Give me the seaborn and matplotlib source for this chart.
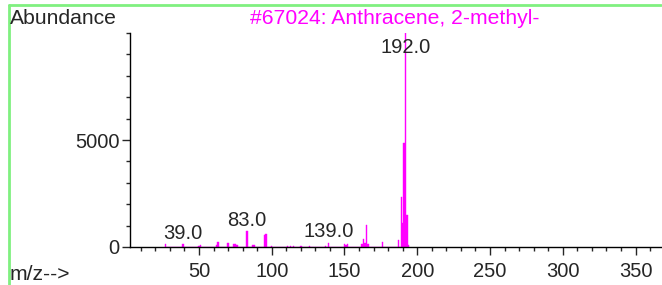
import matplotlib
matplotlib.use("Agg")
import matplotlib.pyplot as plt
from matplotlib.lines import Line2D
from matplotlib.ticker import MultipleLocator
import pandas as pd
import seaborn as sns

sns.set_style("ticks")
plt.rcParams['font.family'] = ['Liberation Sans', 'DejaVu Sans']

# mass spectrum peaks
mz = [27, 39, 50, 51, 62, 63, 70, 74, 75, 76, 83, 87, 88, 95, 96, 100,
      111, 113, 115, 120, 126, 137, 139, 150, 151, 152, 162, 163, 164,
      165, 166, 176, 187, 189, 190, 191, 192, 193, 194]
abundance = [140, 140, 60, 100, 80, 220, 210, 150, 120, 80, 750, 100, 80,
             580, 590, 50, 50, 60, 70, 40, 40, 60, 200, 150, 100, 150, 150,
             390, 200, 1030, 150, 250, 320, 2350, 1120, 4870, 10000, 1500, 100]
labels_mz = [39, 83, 139]
title = "#67024: Anthracene, 2-methyl-"

df = pd.DataFrame({"mz": mz, "abundance": abundance})

fs = 14.5
fs_head = 15.2
fig = plt.figure(figsize=(6.62, 2.85), dpi=100)
ax = fig.add_axes([130 / 662, 38 / 285, 531 / 662, 214 / 285])

sns.histplot(data=df, x="mz", weights="abundance", discrete=True, shrink=1.0,
             color="#ff00ff", edgecolor="#ff00ff", linewidth=0.3, alpha=1.0, ax=ax)

ax.set_xlim(2.6, 367.5)
ax.set_ylim(0, 10000)
ax.set_xlabel("")
ax.set_ylabel("")
ax.set_xticks(list(range(50, 400, 50)))
ax.xaxis.set_minor_locator(MultipleLocator(10))
ax.set_yticks([0, 5000])
ax.yaxis.set_minor_locator(MultipleLocator(1000))
ax.tick_params(which="major", length=6, width=1, labelsize=fs)
ax.tick_params(which="minor", length=3, width=1)
ax.tick_params(axis="x", which="major", pad=5)
ax.tick_params(axis="y", which="major", pad=1.5)
sns.despine(ax=ax)
for s in ("left", "bottom"):
    ax.spines[s].set_color("black")
    ax.spines[s].set_linewidth(1)

for m in labels_mz:
    h = abundance[mz.index(m)]
    ax.text(m, h + 250, "%.1f" % m, ha="center", va="baseline", fontsize=fs)
ax.text(192, 9050, "192.0", ha="center", va="baseline", fontsize=fs)

fig.text(395 / 662, 1 - 18 / 285, title, color="#ff00ff", ha="center",
         va="center", fontsize=fs_head)
fig.text(10 / 662, 1 - 18 / 285, "Abundance", ha="left", va="center", fontsize=fs_head)
fig.text(10 / 662, 1 - 274 / 285, "m/z-->", ha="left", va="center", fontsize=fs_head)

fig.add_artist(Line2D([9 / 662, 661 / 662], [1 - 5 / 285, 1 - 5 / 285],
                      transform=fig.transFigure, color="#80f080", lw=2))
fig.add_artist(Line2D([9 / 662, 9 / 662], [1 - 5 / 285, 0],
                      transform=fig.transFigure, color="#80f080", lw=2))

fig.savefig("out.png", dpi=100)
